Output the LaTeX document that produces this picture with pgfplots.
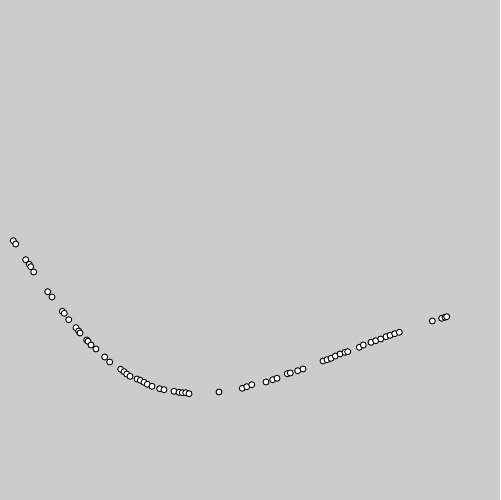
\documentclass[border=0pt]{standalone}
\usepackage{pgfplots}
\pgfplotsset{compat=1.18}
\definecolor{bg}{HTML}{CCCCCC}
\begin{document}
\begin{tikzpicture}
\begin{axis}[
  scale only axis, width=500bp, height=500bp,
  xmin=0, xmax=500, ymin=0, ymax=500,
  xtick=\empty, ytick=\empty,
  axis line style={draw=none},
  axis background/.style={fill=bg},
  clip=false,
]
% points in image pixels (x, 500 - y)
\addplot[only marks, mark=*, mark size=3bp, mark options={fill=white, draw=black, line width=0.9bp}]
  table[x=x, y expr=500-\thisrow{y}] {
x y
13.3 240.7
15.7 244.0
25.7 259.7
29.3 264.3
30.7 266.7
33.7 272.0
47.7 291.7
52.0 297.0
62.3 311.3
64.3 313.3
68.7 319.7
76.0 327.7
78.7 331.0
80.0 333.0
86.7 340.0
88.0 341.3
91.0 345.0
96.0 349.0
104.7 357.0
109.7 362.0
120.7 369.3
124.0 371.7
126.7 374.0
130.0 376.3
137.0 379.0
140.3 380.3
144.0 382.3
147.3 384.3
152.0 386.3
159.7 388.7
164.0 389.7
174.0 391.3
179.0 392.3
182.3 392.7
185.7 392.7
189.0 393.7
219.0 392.0
242.3 388.3
246.7 386.7
251.7 384.7
266.0 382.0
272.7 379.7
277.0 378.3
287.3 373.7
290.3 373.0
297.7 370.7
303.0 369.0
323.0 361.0
327.0 359.7
331.0 358.3
335.3 356.0
340.0 354.0
345.0 352.3
347.7 351.7
359.3 347.3
363.3 345.0
371.0 342.3
375.7 340.7
380.7 339.0
386.0 336.7
390.0 335.3
394.7 333.7
399.3 332.3
432.3 321.0
441.7 318.3
445.0 317.3
446.7 316.7
};
\end{axis}
\end{tikzpicture}
\end{document}
